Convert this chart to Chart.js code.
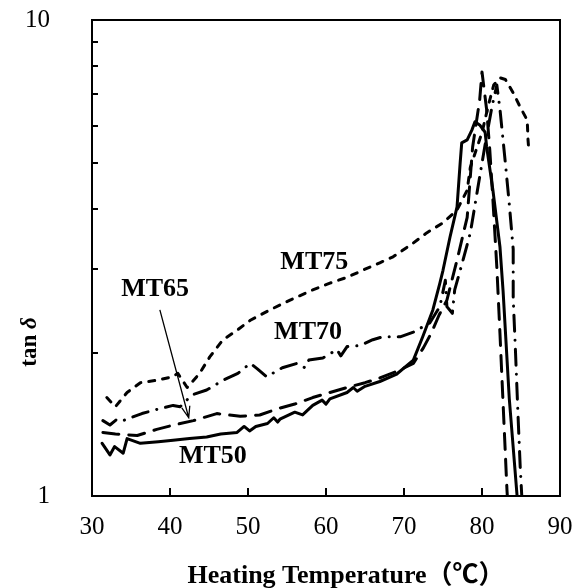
<!DOCTYPE html>
<html>
<head>
<meta charset="utf-8">
<script src="https://cdn.jsdelivr.net/npm/chart.js@4.4.1/dist/chart.umd.min.js"></script>
<style>
  html, body { margin: 0; padding: 0; background: #fff; }
  #wrap { width: 575px; height: 588px; }
</style>
</head>
<body>
<div id="wrap"><canvas id="chart"></canvas></div>
<script>
// Data (x = heating temperature in degC, y = tan delta)
const mt50Temp = [31.3, 32.3, 32.9, 34.0, 34.5, 36.2, 38.5, 40.4, 42.5, 44.7, 46.5, 48.6, 49.5, 50.2, 51.0, 52.5, 53.3, 53.8, 54.1, 56.0, 57.0, 58.3, 59.5, 60.0, 60.5, 62.7, 63.5, 64.0, 65.0, 66.9, 69.0, 71.2, 72.4, 73.7, 74.6, 75.0, 75.9, 76.8, 77.2, 77.4, 78.1, 78.7, 79.1, 79.7, 80.4, 80.6, 81.4, 82.3, 82.7, 83.5, 84.5, 84.7];
const mt50Tan  = [1.29, 1.22, 1.27, 1.23, 1.32, 1.29, 1.30, 1.31, 1.32, 1.33, 1.35, 1.36, 1.40, 1.37, 1.40, 1.42, 1.46, 1.43, 1.45, 1.50, 1.48, 1.55, 1.59, 1.56, 1.60, 1.65, 1.69, 1.66, 1.70, 1.74, 1.80, 1.93, 2.16, 2.46, 2.80, 2.98, 3.50, 4.05, 5.01, 5.52, 5.60, 5.87, 6.11, 6.02, 5.81, 5.41, 4.39, 3.34, 2.70, 1.60, 1.00, 0.95];

const mt65Temp = [31.4, 33.0, 35.8, 38.3, 40.5, 43.0, 46.0, 49.0, 51.5, 54.1, 56.0, 58.3, 60.5, 62.7, 65.0, 66.9, 69.5, 71.2, 72.5, 73.5, 74.5, 75.5, 76.8, 78.1, 78.5, 78.8, 79.7, 80.0, 80.6, 81.0, 81.4, 81.9, 82.3, 83.2, 83.3];
const mt65Tan  = [1.36, 1.35, 1.34, 1.38, 1.41, 1.44, 1.49, 1.47, 1.48, 1.53, 1.56, 1.61, 1.65, 1.69, 1.73, 1.77, 1.84, 1.90, 2.05, 2.20, 2.40, 2.58, 3.13, 3.85, 4.68, 5.41, 6.79, 7.78, 6.47, 5.33, 4.19, 3.03, 2.20, 1.03, 0.97];

const mt70Temp = [31.4, 32.3, 33.2, 34.0, 36.4, 38.3, 40.4, 41.3, 42.8, 44.7, 46.8, 48.7, 50.3, 51.2, 52.4, 54.4, 56.3, 57.3, 57.8, 59.6, 61.4, 61.9, 62.7, 64.4, 66.0, 67.3, 69.5, 71.2, 73.3, 74.6, 75.3, 75.5, 76.2, 76.5, 77.5, 78.5, 79.7, 80.5, 81.3, 81.9, 82.3, 83.0, 83.5, 84.0, 84.0, 84.3, 84.6, 84.9, 85.1, 85.2];
const mt70Tan  = [1.44, 1.41, 1.45, 1.44, 1.49, 1.52, 1.55, 1.54, 1.63, 1.67, 1.75, 1.81, 1.90, 1.85, 1.78, 1.86, 1.90, 1.86, 1.93, 1.95, 2.03, 1.97, 2.06, 2.07, 2.13, 2.16, 2.16, 2.21, 2.31, 2.50, 2.84, 2.50, 2.42, 2.71, 3.10, 3.57, 4.68, 5.60, 6.60, 7.30, 6.50, 5.00, 4.10, 3.30, 2.60, 2.00, 1.50, 1.15, 1.00, 0.95];

const mt75Temp = [31.9, 33.0, 34.5, 36.2, 38.3, 40.3, 41.0, 42.2, 43.8, 45.1, 46.8, 48.6, 50.3, 52.8, 55.4, 58.3, 60.5, 62.7, 64.7, 66.9, 68.6, 71.2, 72.9, 75.0, 76.8, 78.1, 78.5, 80.0, 80.8, 81.5, 82.3, 83.0, 84.0, 84.9, 85.8, 85.9, 86.0];
const mt75Tan  = [1.61, 1.54, 1.65, 1.73, 1.75, 1.78, 1.81, 1.69, 1.81, 1.96, 2.13, 2.23, 2.34, 2.46, 2.58, 2.71, 2.80, 2.88, 2.98, 3.09, 3.18, 3.40, 3.57, 3.75, 3.99, 4.39, 4.90, 5.80, 6.60, 7.30, 7.56, 7.50, 7.03, 6.56, 6.16, 5.60, 5.33];

const xTicks = [30, 40, 50, 60, 70, 80, 90];
const yTicks = [1, 2, 3, 4, 5, 6, 7, 8, 9, 10];
const yTickLabels = [1, 10];

// curve labels and the MT65 arrow, in data units
const seriesLabels = [
  { text: 'MT75', x: 58.5, y: 3.10 },
  { text: 'MT70', x: 57.7, y: 2.21 },
  { text: 'MT65', x: 38.1, y: 2.72 },
  { text: 'MT50', x: 45.5, y: 1.21 }
];
const arrowFrom = { x: 38.7, y: 2.46 };
const arrowTo = { x: 42.4, y: 1.46 };

const pts = (xs, ys) => xs.map((x, i) => ({ x: x, y: ys[i] }));

const line = (label, xs, ys, dash) => ({
  label: label,
  data: pts(xs, ys),
  borderColor: '#000',
  borderWidth: 3,
  borderDash: dash,
  borderCapStyle: 'round',
  borderJoinStyle: 'round',
  pointRadius: 0,
  tension: 0,
  fill: false
});

const serif = '"Liberation Serif", "Times New Roman", serif';

const decor = {
  id: 'decor',
  afterDatasetsDraw(chart) {
    const { ctx, chartArea: a, scales: { x, y } } = chart;
    ctx.save();
    // frame
    ctx.strokeStyle = '#000';
    ctx.lineWidth = 2;
    ctx.strokeRect(a.left, a.top, a.right - a.left, a.bottom - a.top);
    // inward ticks
    ctx.beginPath();
    xTicks.slice(1, -1).forEach(v => {
      const px = Math.round(x.getPixelForValue(v));
      ctx.moveTo(px, a.bottom);
      ctx.lineTo(px, a.bottom - 8);
    });
    yTicks.slice(1, -1).forEach(v => {
      const py = Math.round(y.getPixelForValue(v));
      ctx.moveTo(a.left, py);
      ctx.lineTo(a.left + 6, py);
    });
    ctx.stroke();
    // curve labels
    ctx.fillStyle = '#000';
    ctx.font = 'bold 26px ' + serif;
    ctx.textAlign = 'center';
    ctx.textBaseline = 'middle';
    seriesLabels.forEach(l => {
      ctx.fillText(l.text, x.getPixelForValue(l.x), y.getPixelForValue(l.y));
    });
    // arrow
    const x1 = x.getPixelForValue(arrowFrom.x), y1 = y.getPixelForValue(arrowFrom.y);
    const x2 = x.getPixelForValue(arrowTo.x), y2 = y.getPixelForValue(arrowTo.y);
    const ang = Math.atan2(y2 - y1, x2 - x1);
    ctx.lineWidth = 1.3;
    ctx.beginPath();
    ctx.moveTo(x1, y1);
    ctx.lineTo(x2, y2);
    ctx.moveTo(x2 - 12 * Math.cos(ang - 0.35), y2 - 12 * Math.sin(ang - 0.35));
    ctx.lineTo(x2, y2);
    ctx.lineTo(x2 - 12 * Math.cos(ang + 0.35), y2 - 12 * Math.sin(ang + 0.35));
    ctx.stroke();
    // axis titles
    ctx.font = 'bold 26px ' + serif + ', "Noto Sans CJK SC"';
    ctx.textBaseline = 'alphabetic';
    ctx.fillText('Heating Temperature（℃）', 346, 583);
    ctx.translate(36, 342);
    ctx.rotate(-Math.PI / 2);
    ctx.textAlign = 'left';
    ctx.font = 'bold 23px ' + serif;
    const w1 = ctx.measureText('tan ').width;
    ctx.font = 'bold italic 23px ' + serif;
    const w2 = ctx.measureText('δ').width;
    ctx.font = 'bold 23px ' + serif;
    ctx.fillText('tan ', -(w1 + w2) / 2, 0);
    ctx.font = 'bold italic 23px ' + serif;
    ctx.fillText('δ', -(w1 + w2) / 2 + w1, 0);
    ctx.restore();
  }
};

new Chart(document.getElementById('chart').getContext('2d'), {
  type: 'line',
  data: {
    datasets: [
      line('MT50', mt50Temp, mt50Tan, []),
      line('MT65', mt65Temp, mt65Tan, [16, 10]),
      line('MT70', mt70Temp, mt70Tan, [16, 9, 0.1, 9]),
      line('MT75', mt75Temp, mt75Tan, [6, 8])
    ]
  },
  options: {
    responsive: true,
    maintainAspectRatio: false,
    animation: false,
    layout: { padding: { top: 20, right: 15, left: 0, bottom: 0 } },
    plugins: {
      legend: { display: false },
      tooltip: { enabled: false }
    },
    scales: {
      x: {
        type: 'linear',
        min: 30,
        max: 90,
        afterBuildTicks: s => { s.ticks = xTicks.map(v => ({ value: v })); },
        afterFit: s => { s.height = 92; s.paddingLeft = 0; s.paddingRight = 0; },
        grid: { display: false, drawTicks: false },
        border: { display: false },
        ticks: {
          color: '#000',
          padding: 16,
          maxRotation: 0,
          autoSkip: false,
          font: { family: serif, size: 25 }
        }
      },
      y: {
        type: 'logarithmic',
        min: 1,
        max: 10,
        afterBuildTicks: s => { s.ticks = yTicks.map(v => ({ value: v })); },
        afterFit: s => { s.width = 92; s.paddingTop = 0; s.paddingBottom = 0; },
        grid: { display: false, drawTicks: false },
        border: { display: false },
        ticks: {
          color: '#000',
          padding: 42,
          autoSkip: false,
          font: { family: serif, size: 25 },
          callback: v => yTickLabels.includes(v) ? String(v) : ''
        }
      }
    }
  },
  plugins: [decor]
});
</script>
</body>
</html>
